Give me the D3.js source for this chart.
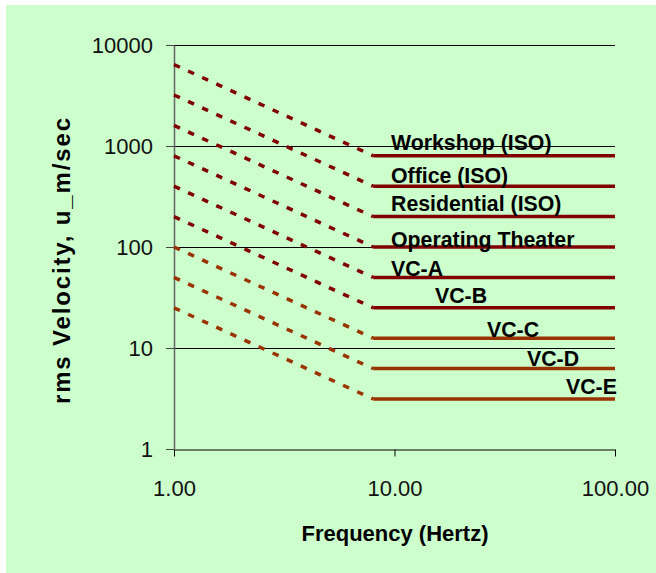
<!DOCTYPE html>
<html>
<head>
<meta charset="utf-8">
<script src="https://cdn.jsdelivr.net/npm/d3@7"></script>
<style>
  html, body { margin: 0; padding: 0; background: #ffffff; }
  svg { display: block; }
  text { font-family: "Liberation Sans", Arial, sans-serif; }
</style>
</head>
<body>
<svg id="chart" width="656" height="573"></svg>
<script>
// ---- data ----
const criteria = ["Workshop (ISO)", "Office (ISO)", "Residential (ISO)", "Operating Theater",
                  "VC-A", "VC-B", "VC-C", "VC-D", "VC-E"];
const velocityAt1Hz = [6400, 3200, 1600, 800, 400, 200, 100, 50, 25];
const velocityFlat  = [800, 400, 200, 100, 50, 25, 12.5, 6.25, 3.125];
const cornerFreq = 8;
const startFreq = 1;
const endFreq = 100;
const yTicks = [1, 10, 100, 1000, 10000];
const xTicks = [1, 10, 100];

// ---- layout ----
const W = 656, H = 573;
const plot = { left: 174, right: 615, top: 45, bottom: 449 };
const colors = ["#800000", "#800000", "#800000", "#800000", "#800000", "#800000",
                "#993300", "#993300", "#993300"];
const labelX = [391, 391, 391, 391, 391, 435, 487, 527, 566];
const labelLift = [5.8, 2.7, 5.1, 0, 1.9, 5.3, 1.2, 2.6, 5.5];

const svg = d3.select("#chart");

svg.append("rect")
  .attr("x", 6).attr("y", 5)
  .attr("width", W - 6).attr("height", H - 5)
  .attr("fill", "#ccffcc");

const x = d3.scaleLog().domain([startFreq, endFreq]).range([plot.left, plot.right]);
const y = d3.scaleLog().domain([1, 10000]).range([plot.bottom, plot.top]);

// gridlines
svg.append("g")
  .selectAll("line")
  .data(yTicks.filter(d => d > 1))
  .join("line")
  .attr("x1", plot.left).attr("x2", plot.right)
  .attr("y1", d => Math.round(y(d)) + 0.5).attr("y2", d => Math.round(y(d)) + 0.5)
  .attr("stroke", "#000").attr("stroke-width", 1);

// x axis
const xAxis = svg.append("g")
  .attr("transform", `translate(0,${plot.bottom + 0.5})`)
  .call(d3.axisBottom(x).tickValues(xTicks).tickFormat(d3.format(".2f"))
        .tickSizeInner(7).tickSizeOuter(0).tickPadding(24));
xAxis.select(".domain").attr("stroke", "#000");
xAxis.selectAll(".tick line").attr("stroke", "#000");
xAxis.selectAll(".tick text").attr("font-size", 22).attr("fill", "#111")
  .attr("font-family", "'Liberation Sans', Arial, sans-serif");

// y axis
const yAxis = svg.append("g")
  .attr("transform", `translate(${plot.left},0)`)
  .call(d3.axisLeft(y).tickValues(yTicks).tickFormat(d3.format("d"))
        .tickSizeInner(8).tickSizeOuter(0).tickPadding(13));
yAxis.select(".domain").attr("stroke", "#666").attr("stroke-width", 1.5);
yAxis.selectAll(".tick line").attr("stroke", "#444");
yAxis.selectAll(".tick text").attr("font-size", 22).attr("fill", "#111")
  .attr("font-family", "'Liberation Sans', Arial, sans-serif");

// series
const line = d3.line().x(d => x(d[0])).y(d => y(d[1]));
const series = svg.append("g");
criteria.forEach((name, i) => {
  const slope = [[startFreq, velocityAt1Hz[i]], [cornerFreq, velocityFlat[i]]];
  const flat = [[cornerFreq, velocityFlat[i]], [endFreq, velocityFlat[i]]];
  series.append("path")
    .attr("d", line(slope))
    .attr("fill", "none")
    .attr("stroke", colors[i])
    .attr("stroke-width", 3.5)
    .attr("stroke-dasharray", "6.5,9");
  series.append("path")
    .attr("d", line(flat))
    .attr("fill", "none")
    .attr("stroke", colors[i])
    .attr("stroke-width", 3.5);
});

// labels
svg.append("g")
  .selectAll("text")
  .data(criteria)
  .join("text")
  .attr("x", (d, i) => labelX[i])
  .attr("y", (d, i) => y(velocityFlat[i]) - labelLift[i])
  .attr("font-size", 21.3)
  .attr("font-weight", "bold")
  .attr("fill", "#000")
  .text(d => d);

// axis titles
svg.append("text")
  .attr("x", (plot.left + plot.right) / 2 + 0.5)
  .attr("y", 540.5)
  .attr("text-anchor", "middle")
  .attr("font-size", 22)
  .attr("font-weight", "bold")
  .text("Frequency (Hertz)");

svg.append("text")
  .attr("transform", "translate(70,261) rotate(-90)")
  .attr("text-anchor", "middle")
  .attr("font-size", 24)
  .attr("font-weight", "bold")
  .attr("textLength", 286)
  .attr("lengthAdjust", "spacing")
  .text("rms Velocity, u_m/sec");
</script>
</body>
</html>
